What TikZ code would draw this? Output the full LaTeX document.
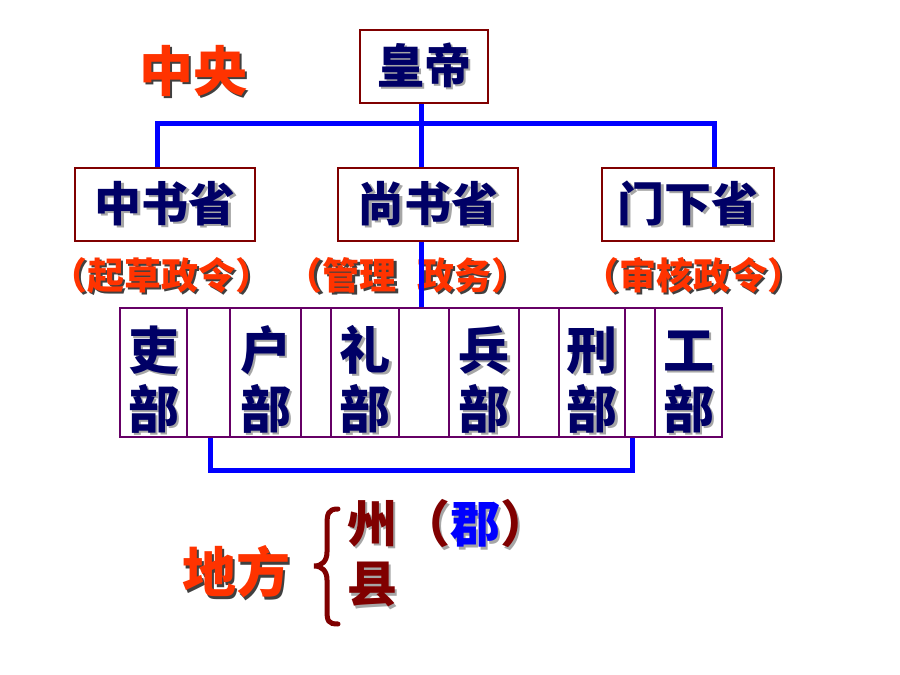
\documentclass[tikz,border=0pt]{standalone}
\usepackage{fontspec}
\setmainfont{Noto Sans CJK SC}
\usetikzlibrary{positioning,calc}
\definecolor{dr}{RGB}{128,0,0}
\definecolor{nv}{RGB}{0,0,102}
\definecolor{pu}{RGB}{102,0,102}
\definecolor{rd}{RGB}{255,51,0}
\newcommand\shd[2][black!35]{\leavevmode\rlap{\kern2.5pt\raisebox{-2.5pt}{\textcolor{#1}{#2}}}#2}
\tikzset{
    box/.style =    {rectangle,
                    fill=white,
                    draw=dr,
                    text=nv,
                    line width=2.5pt,
                    inner sep=0pt,
                    minimum height=73pt,
                    font=\bfseries\fontsize{47}{47}\selectfont},
    dept/.style =   {rectangle,
                    draw=pu,
                    text=nv,
                    line width=2pt,
                    inner sep=0pt,
                    minimum height=129pt,
                    align=center,
                    font=\bfseries\fontsize{51}{57}\selectfont},
    note/.style =   {text=rd,
                    inner sep=0pt,
                    font=\bfseries\fontsize{37}{37}\selectfont},
    big/.style =    {text=rd,
                    inner sep=0pt,
                    font=\bfseries\fontsize{54}{54}\selectfont},
    local/.style =  {text=dr,
                    inner sep=0pt,
                    font=\bfseries\fontsize{50}{50}\selectfont},
    bus/.style =    {draw=blue,
                    line width=5pt},
    brace/.style =  {draw=dr,
                    line width=5pt,
                    line cap=round}}

\begin{document}
\begin{tikzpicture}[x=1pt,y=-1pt]
                \useasboundingbox (0,0) rectangle (900,675);
                \coordinate (bar) at (421,123);
                \coordinate (low) at (421,470);
                % the six ministries
                \foreach \n/\l/\r/\ka/\kb in {c1/120/187/吏/部, c2/187/230//, c3/230/301/户/部,
                        c4/301/331//, c5/331/399/礼/部, c6/399/449//, c7/449/519/兵/部,
                        c8/519/559//, c9/559/625/刑/部, c10/625/655//, c11/655/722/工/部}
                    \node[dept, minimum width={\r-\l}] (\n) at ({(\l+\r)/2},372.5)
                        {\rule{0pt}{60pt}\shd{\ka}\\[2pt]\shd{\kb}};
                \node[box, minimum width=128pt]   (hd) at (424,66.5)     {\shd{皇帝}};
                \node[big]                        (zy) at (193,72)       {\shd[black!75]{中央}};
                \node[box, minimum width=180pt]   (ss) at (428,204.5)    {\shd{尚书省}};
                \node[box, minimum width=180pt]   (zs) [left of=ss, node distance=263pt]  {\shd{中书省}};
                \node[box, minimum width=172pt]   (mx) [right of=ss, node distance=260pt] {\shd{门下省}};
                \node[note]   (zsn) [below of=zs, node distance=72pt, xshift=-4pt] {\shd[black!75]{（起草政令）}};
                \node[note]   (ssn) at (407,276.5)        {\shd[black!75]{（管理}\hspace{0.55em}\shd[black!75]{政务）}};
                \node[note]   (mxn) [below of=mx, node distance=72pt, xshift=5pt]  {\shd[black!75]{（审核政令）}};
                \path [bus]     ([xshift=-8pt]zs.north) |- (bar) -| ([xshift=26pt]mx.north)
                                (hd.south -| bar) -- (ss.north -| bar)
                                (ss.south -| bar) -- (c6.north -| bar)
                                ([xshift=2pt]c2.south) -- ([xshift=2pt]c2.south |- low) -| ([xshift=-8pt]c10.south);
                % local level
                \node[big]    (df) at (236,573)   {\shd[black!75]{地方}};
                \node[local]  (zhou) at (372,525) {\shd{州}};
                \node[local]  (xian) [below of=zhou, node distance=61pt] {\shd{县}};
                \node[local]  (jun) at (475,525)  {\shd{（}{\color{blue}\shd{郡}}\shd{）}};
                \draw [brace]   (338,509) .. controls (328,509) and (327,514) .. (327,525) -- (327,552)
                                .. controls (327,561) and (322,566) .. (314,566)
                                .. controls (322,566) and (327,571) .. (327,580) -- (327,610)
                                .. controls (327,621) and (328,624) .. (338,624);
\end{tikzpicture}
\end{document}
